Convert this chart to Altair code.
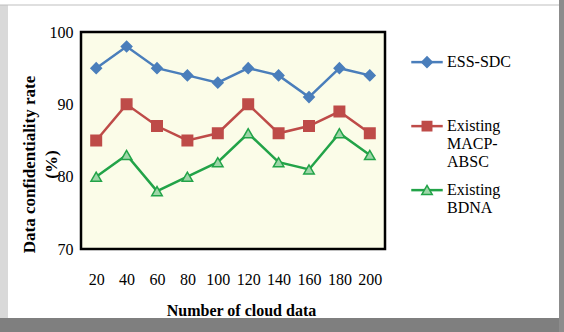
import altair as alt
import pandas as pd

# ---- data ----
cloud_data = ["20", "40", "60", "80", "100", "120", "140", "160", "180", "200"]
ess_sdc = [95, 98, 95, 94, 93, 95, 94, 91, 95, 94]
macp_absc = [85, 90, 87, 85, 86, 90, 86, 87, 89, 86]
bdna = [80, 83, 78, 80, 82, 86, 82, 81, 86, 83]
series_names = ["ESS-SDC", "Existing MACP-ABSC", "Existing BDNA"]
y_ticks = [70, 80, 90, 100]

line_colors = ["#4a7ebb", "#be4b48", "#22a348"]
fill_colors = ["#4a7ebb", "#be4b48", "#9ed6a8"]
shapes = ["diamond", "square", "triangle-up"]

rows = []
for name, vals in zip(series_names, [ess_sdc, macp_absc, bdna]):
    for x, v in zip(cloud_data, vals):
        rows.append({"x": x, "y": v, "series": name})
df = pd.DataFrame(rows)

FONT = "Liberation Serif"

x_enc = alt.X("x:O", sort=cloud_data,
              scale=alt.Scale(type="point", padding=0.5),
              axis=alt.Axis(title="Number of cloud data", labelAngle=0, ticks=False,
                            domain=False, labelPadding=22, titlePadding=15,
                            labelFontSize=16, titleFontSize=16, labelFont=FONT,
                            titleFont=FONT, titleFontWeight="bold", labelColor="#000",
                            titleColor="#000", titleX=160))
y_enc = alt.Y("y:Q", scale=alt.Scale(domain=[70, 100], nice=False, zero=False),
              axis=alt.Axis(values=y_ticks, title=["Data confidentiality rate", "(%)"],
                            grid=False, ticks=False, domain=False, labelPadding=8,
                            labelFontSize=16, titleFontSize=17, labelFont=FONT,
                            titleFont=FONT, titleFontWeight="bold", labelColor="#000",
                            titleColor="#000", titleLineHeight=22,
                            titleX=-60, titleY=132, titleAngle=270,
                            titleAlign="center", titleBaseline="top"))

label_expr = ("datum.label == 'Existing MACP-ABSC' ? ['Existing', 'MACP-', 'ABSC'] : "
              "datum.label == 'Existing BDNA' ? ['Existing', 'BDNA', ''] : [datum.label, '', '']")

# legend glyphs: lowered so they sit beside the first text line
D = 1.55
leg_line = f"M-3,{D}H3"
leg_shapes = [
    f"M0,{-1 + D}L1,{D}L0,{1 + D}L-1,{D}Z",
    f"M-0.9,{-0.9 + D}H0.9V{0.9 + D}H-0.9Z",
    f"M0,{-0.9 + D}L1,{0.85 + D}H-1Z",
]

LEG_SIZE = 110
common = dict(title=None, orient="none", legendX=338, legendY=14, labelExpr=label_expr,
              labelFontSize=16, labelFont=FONT, labelColor="#000", padding=0,
              rowPadding=4, labelBaseline="top", symbolSize=LEG_SIZE, labelOffset=12)

lines = alt.Chart(df).mark_line(strokeWidth=2.5).encode(
    x=x_enc, y=y_enc,
    color=alt.Color("series:N", sort=series_names,
                    scale=alt.Scale(domain=series_names, range=line_colors),
                    legend=alt.Legend(symbolType=leg_line, symbolStrokeWidth=2.5,
                                      labelOpacity=0, **common)),
)

points = alt.Chart(df).mark_point(filled=True, size=110, strokeWidth=1.5, opacity=1).encode(
    x=x_enc, y=y_enc,
    fill=alt.Fill("series:N", scale=alt.Scale(domain=series_names, range=fill_colors),
                  legend=None),
    stroke=alt.Stroke("series:N", scale=alt.Scale(domain=series_names, range=line_colors),
                      legend=None),
    shape=alt.Shape("series:N", scale=alt.Scale(domain=series_names, range=shapes),
                    legend=None),
)

leg_pts = alt.Legend(symbolStrokeWidth=1.5, symbolOpacity=1, **common)
legend_marks = alt.Chart(df).transform_filter("false").mark_point(
    filled=True, size=110, strokeWidth=1.5, opacity=1).encode(
    x=x_enc, y=y_enc,
    fill=alt.Fill("series:N", sort=series_names,
                  scale=alt.Scale(domain=series_names, range=fill_colors), legend=leg_pts),
    stroke=alt.Stroke("series:N", sort=series_names,
                      scale=alt.Scale(domain=series_names, range=line_colors), legend=leg_pts),
    shape=alt.Shape("series:N", sort=series_names,
                    scale=alt.Scale(domain=series_names, range=leg_shapes), legend=leg_pts),
)

one = pd.DataFrame({"k": [0]})
frame_bottom = alt.Chart(one).mark_rect(color="#7f7f7f").encode(
    x=alt.value(-81), x2=alt.value(483), y=alt.value(286), y2=alt.value(300))
frame_right = alt.Chart(one).mark_rect(color="#8c8c8c").encode(
    x=alt.value(478), x2=alt.value(483), y=alt.value(-32), y2=alt.value(300))
frame_left = alt.Chart(one).mark_rect(color="#d9d9d9").encode(
    x=alt.value(-81), x2=alt.value(-73), y=alt.value(-27), y2=alt.value(286))
frame_top = alt.Chart(one).mark_rule(color="#bfbfbf", strokeWidth=1).encode(
    x=alt.value(-81), x2=alt.value(478), y=alt.value(-27))

chart = alt.layer(frame_bottom, frame_right, frame_left, frame_top,
                  lines, points, legend_marks).resolve_scale(
    color="independent", fill="independent", stroke="independent", shape="independent"
).properties(
    width=304, height=217,
    autosize=alt.AutoSizeParams(type="none"),
    padding={"left": 81, "top": 32, "right": 179, "bottom": 83},
    background="white",
).configure_view(
    fill="#fbfce8", stroke="#000000", strokeWidth=2.5
)

chart.save("out.html", embed_options={"renderer": "svg", "actions": False})
